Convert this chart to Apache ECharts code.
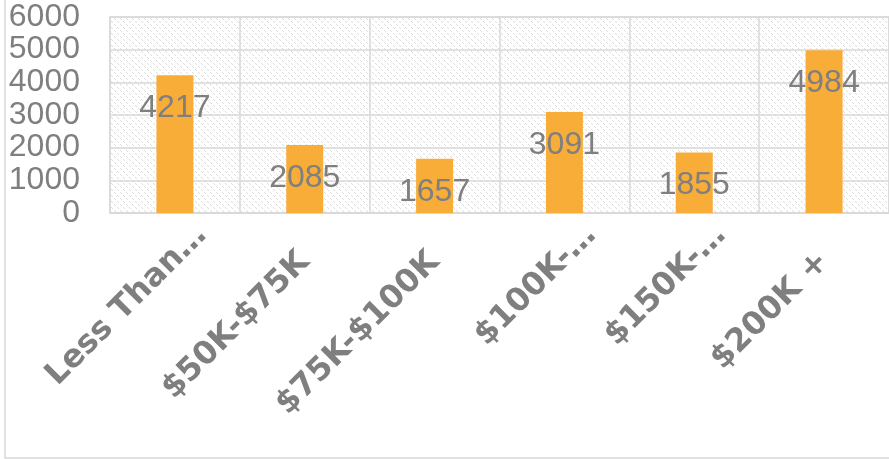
<!DOCTYPE html>
<html>
<head>
<meta charset="utf-8">
<style>
  html, body { margin: 0; padding: 0; background: #fff; }
  #chart { width: 889px; height: 459px; }
</style>
<script src="https://cdn.jsdelivr.net/npm/echarts@6/dist/echarts.min.js"></script>
</head>
<body>
<div id="chart"></div>
<script>
// income brackets, as shown (Excel truncated the long ones)
var categories = ['Less Than…', '$50K-$75K', '$75K-$100K', '$100K-…', '$150K-…', '$200K +'];
var counts = [4217, 2085, 1657, 3091, 1855, 4984];
var yTicks = [0, 1000, 2000, 3000, 4000, 5000, 6000];

// hatch fill for the plot area
function hatch() {
    var c = document.createElement('canvas');
    c.width = 6; c.height = 6;
    var ctx = c.getContext('2d');
    ctx.fillStyle = '#ffffff';
    ctx.fillRect(0, 0, 6, 6);
    ctx.fillStyle = '#dcdcdc';
    for (var i = 0; i < 6; i++) {
        if (i % 3 == 2) continue; // dashed look
        ctx.fillRect(i, i, 1, 1);
    }
    return { image: c, repeat: 'repeat' };
}

// truncated labels sit further up the diagonal in the original
var xData = categories.map(function (name) {
    if (name.indexOf('…') >= 0) {
        return { value: name, textStyle: { padding: [0, -38, 0, 0] } };
    }
    return name;
});

var chart = echarts.init(document.getElementById('chart'));
chart.setOption({
    animation: false,
    graphic: [{
        type: 'rect',
        shape: { x: 5, y: -10, width: 900, height: 468 },
        style: { fill: 'none', stroke: '#d9d9d9', lineWidth: 1.5 },
        silent: true
    }],
    grid: {
        left: 110, right: -8, top: 17, bottom: 246,
        show: true,
        backgroundColor: hatch(),
        borderColor: '#d9d9d9',
        borderWidth: 1.5
    },
    xAxis: {
        type: 'category',
        data: xData,
        axisLine: { lineStyle: { color: '#d9d9d9', width: 1.5 } },
        axisTick: { show: false },
        splitLine: { show: true, lineStyle: { color: '#d9d9d9', width: 1.5 } },
        axisLabel: {
            interval: 0,
            rotate: 45,
            margin: 44,
            color: '#7f7f7f',
            fontFamily: '"DejaVu Sans"',
            fontWeight: 'bold',
            fontSize: 32
        }
    },
    yAxis: {
        type: 'value',
        min: yTicks[0],
        max: yTicks[yTicks.length - 1],
        interval: 1000,
        axisLine: { show: false },
        axisTick: { show: false },
        splitLine: { lineStyle: { color: '#d9d9d9', width: 1.5 } },
        axisLabel: {
            margin: 30,
            color: '#7f7f7f',
            fontFamily: '"Liberation Sans"',
            fontSize: 32,
            formatter: function (v) { return String(v); }
        }
    },
    series: [{
        type: 'bar',
        data: counts,
        barWidth: 37,
        itemStyle: { color: '#f9ad39' },
        label: {
            show: true,
            position: 'insideTop',
            distance: 17,
            color: '#7f7f7f',
            fontFamily: '"Liberation Sans"',
            fontSize: 32
        }
    }]
});
</script>
</body>
</html>
